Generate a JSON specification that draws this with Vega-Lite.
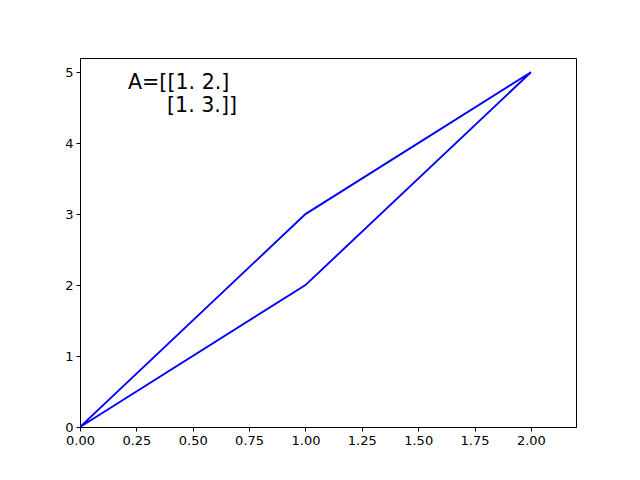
{
  "$schema": "https://vega.github.io/schema/vega-lite/v6.json",
  "width": 496,
  "height": 369,
  "autosize": {"type": "none"},
  "padding": {"left": 80, "top": 58, "right": 64, "bottom": 53},
  "background": "white",
  "config": {
    "view": {"stroke": "black", "strokeWidth": 1},
    "axis": {
      "grid": false,
      "domainColor": "black",
      "tickColor": "black",
      "tickSize": 4,
      "labelColor": "black",
      "labelFont": "DejaVu Sans",
      "labelFontSize": 13,
      "labelPadding": 3,
      "labelFlush": false,
      "labelOverlap": false,
      "title": null
    }
  },
  "datasets": {
    "poly": [
      {"x": 0, "y": 0, "o": 0},
      {"x": 1, "y": 2, "o": 1},
      {"x": 2, "y": 5, "o": 2},
      {"x": 1, "y": 3, "o": 3},
      {"x": 0, "y": 0, "o": 4}
    ],
    "labels": [
      {"x": 0.213, "y": 4.763, "t": "A=[[1. 2.]"},
      {"x": 0.386, "y": 4.44, "t": "[1. 3.]]"}
    ]
  },
  "layer": [
    {
      "data": {"name": "poly"},
      "mark": {"type": "line", "color": "#0000ff", "strokeWidth": 1.9, "clip": true},
      "encoding": {
        "x": {"field": "x", "type": "quantitative", "scale": {"domain": [0, 2.2], "nice": false, "zero": false},
          "axis": {"values": [0, 0.25, 0.5, 0.75, 1, 1.25, 1.5, 1.75, 2], "format": ".2f"}},
        "y": {"field": "y", "type": "quantitative", "scale": {"domain": [0, 5.2], "nice": false, "zero": false},
          "axis": {"values": [0, 1, 2, 3, 4, 5], "format": "d"}},
        "order": {"field": "o", "type": "quantitative"}
      }
    },
    {
      "data": {"name": "labels"},
      "mark": {"type": "text", "align": "left", "baseline": "alphabetic", "font": "DejaVu Sans", "fontSize": 20.6, "color": "black"},
      "encoding": {
        "x": {"field": "x", "type": "quantitative"},
        "y": {"field": "y", "type": "quantitative"},
        "text": {"field": "t"}
      }
    }
  ]
}
